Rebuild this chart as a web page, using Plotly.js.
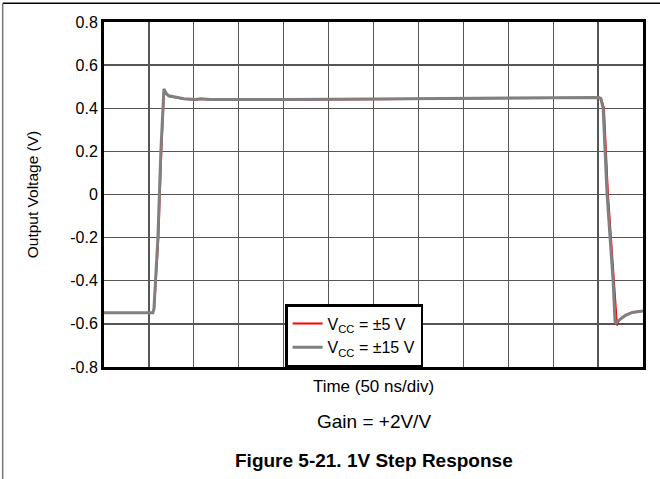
<!DOCTYPE html>
<html>
<head>
<meta charset="utf-8">
<script src="https://cdn.plot.ly/plotly-3.0.1.min.js"></script>
<style>html,body{margin:0;padding:0;background:#fff;}#chart{width:660px;height:479px;}</style>
</head>
<body>
<div id="chart"></div>
<script>
// Time in ns (50 ns/div), output voltage in V
var timeGrey = [0, 54.4, 55.6, 60, 63.3, 66.7, 67.8, 70, 72.2, 80, 88.9, 102, 107.8, 118.9, 152, 200, 300, 400, 500, 551, 553, 555.6, 560, 563.3, 566.7, 568.9, 570, 574, 580, 588, 600];
var vccGrey  = [-0.548, -0.548, -0.53, -0.2, 0.2, 0.49, 0.48, 0.465, 0.458, 0.452, 0.444, 0.441, 0.444, 0.441, 0.44, 0.441, 0.443, 0.447, 0.449, 0.45, 0.445, 0.4, 0.0, -0.2, -0.4, -0.59, -0.595, -0.58, -0.562, -0.547, -0.54];
var timeRed  = [0, 54.4, 55.8, 60.5, 63.8, 66.9, 68.2, 70.3, 72.5, 80, 88.9, 102, 107.8, 118.9, 152, 200, 300, 400, 500, 551, 553.5, 556.5, 561, 564.3, 567.8, 571, 572.5, 576, 582, 590, 600];
var vccRed   = [-0.55, -0.55, -0.53, -0.2, 0.2, 0.485, 0.47, 0.462, 0.455, 0.45, 0.443, 0.44, 0.443, 0.44, 0.439, 0.44, 0.442, 0.446, 0.448, 0.449, 0.444, 0.4, 0.0, -0.2, -0.4, -0.607, -0.59, -0.572, -0.556, -0.545, -0.54];
var seriesNames = ['V<sub>CC</sub> = \u00b15 V', 'V<sub>CC</sub> = \u00b115 V'];
var yTickVals = [0.8, 0.6, 0.4, 0.2, 0, -0.2, -0.4, -0.6, -0.8];
var yTickText = ['0.8', '0.6', '0.4', '0.2', '0', '-0.2', '-0.4', '-0.6', '-0.8'];

var font = 'Arial, "Liberation Sans", sans-serif';
var data = [
  {x: timeRed, y: vccRed, name: seriesNames[0], mode: 'lines', line: {color: '#ff0000', width: 2}},
  {x: timeGrey, y: vccGrey, name: seriesNames[1], mode: 'lines', line: {color: '#808080', width: 3}}
];
var layout = {
  width: 660, height: 479,
  margin: {l: 104, r: 17, t: 22, b: 112},
  paper_bgcolor: '#fff', plot_bgcolor: '#fff',
  font: {family: font, size: 16, color: '#000'},
  showlegend: true,
  legend: {x: 0.336, xanchor: 'left', y: 0, yanchor: 'bottom', bgcolor: '#fff', bordercolor: '#000', borderwidth: 2.5,
           font: {family: font, size: 16, color: '#000'}, tracegroupgap: 0, itemwidth: 30},
  xaxis: {range: [0, 600], dtick: 50, tick0: 0, showticklabels: false, ticks: '',
          showgrid: true, gridcolor: '#555', gridwidth: 1.3, zeroline: false,
          showline: true, linecolor: '#000', linewidth: 3, mirror: true,
          title: {text: 'Time (50 ns/div)', font: {family: font, size: 17}, standoff: 12}},
  yaxis: {range: [-0.8, 0.8], tickvals: yTickVals, ticktext: yTickText, ticks: '',
          showgrid: true, gridcolor: '#555', gridwidth: 1.3, zeroline: false,
          showline: true, linecolor: '#000', linewidth: 3, mirror: true,
          tickfont: {family: font, size: 16},
          title: {text: 'Output Voltage (V)', font: {family: font, size: 15.5}, standoff: 28}},
  annotations: [
    {xref: 'paper', yref: 'paper', x: 0.5, y: -0.158, xanchor: 'center', yanchor: 'middle', showarrow: false,
     text: 'Gain = +2V/V', font: {family: font, size: 19}},
    {xref: 'paper', yref: 'paper', x: 0.5, y: -0.27, xanchor: 'center', yanchor: 'middle', showarrow: false,
     text: '<b>Figure 5-21. 1V Step Response</b>', font: {family: font, size: 19}}
  ],
  shapes: [
    {type: 'line', xref: 'paper', yref: 'paper', x0: -0.188, x1: 1.04, y0: 1.054, y1: 1.054, line: {color: '#000', width: 1.5}},
    {type: 'line', xref: 'paper', yref: 'paper', x0: -0.188, x1: -0.188, y0: 1.054, y1: -0.35, line: {color: '#777', width: 1.5}}
  ]
};
Plotly.newPlot('chart', data, layout, {displayModeBar: false, staticPlot: true});
</script>
</body>
</html>
